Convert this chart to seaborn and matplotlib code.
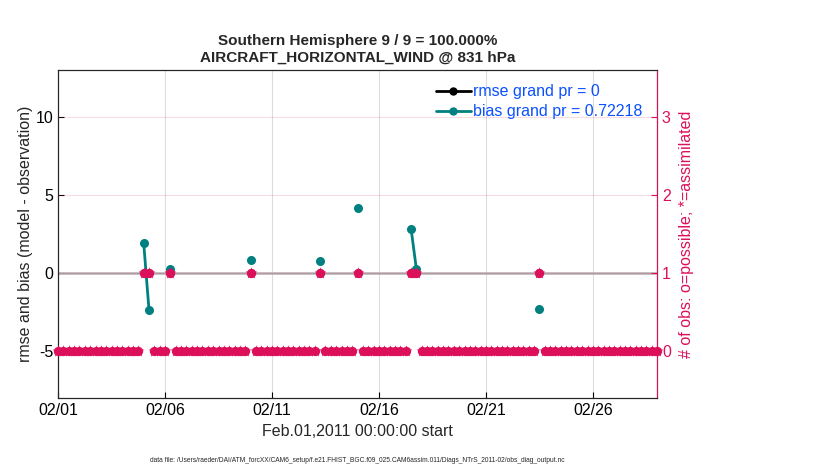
import numpy as np
import pandas as pd
import matplotlib
matplotlib.use("Agg")
import matplotlib.pyplot as plt
from matplotlib.lines import Line2D
import seaborn as sns

# 6-hourly bin centres, days since Feb.01,2011 00:00
bin_days = np.arange(0, 28.01, 0.25)

# bins that hold an observation, with values
obs_days = [4.0, 4.25, 5.25, 9.0, 12.25, 14.0, 16.5, 16.75, 22.5]
bias_vals = [1.95, -2.36, 0.26, 0.83, 0.77, 4.2, 2.85, 0.26, -2.31]
rmse_vals = [0, 0, 0, 0, 0, 0, 0, 0, 0]
n_possible_obs = [1, 1, 1, 1, 1, 1, 1, 1, 1]
n_used_obs = [1, 1, 1, 1, 1, 1, 1, 1, 1]

xtick_days = [0, 5, 10, 15, 20, 25]
xtick_labels = ['02/01', '02/06', '02/11', '02/16', '02/21', '02/26']

teal = '#008080'
magenta = '#dc0f5a'
legend_blue = '#0a50ff'

# count table for every bin (empty bins have 0 obs)
counts = pd.DataFrame({'day': bin_days, 'possible': 0, 'used': 0})
idx = np.searchsorted(bin_days, obs_days)
counts.loc[idx, 'possible'] = n_possible_obs
counts.loc[idx, 'used'] = n_used_obs

# bias/rmse table, runs of neighbouring bins are joined by a line
stats = pd.DataFrame({'day': obs_days, 'bias': bias_vals, 'rmse': rmse_vals})
stats['seg'] = (np.diff(idx, prepend=-10) > 1).cumsum()

sns.set_style("ticks")
plt.rcParams['font.family'] = ['Liberation Sans', 'DejaVu Sans']
plt.rcParams['axes.unicode_minus'] = False
plt.rcParams['xtick.direction'] = 'in'
plt.rcParams['ytick.direction'] = 'in'

fig, ax = plt.subplots(figsize=(8.3, 4.7), dpi=100)
fig.subplots_adjust(left=0.07, right=0.7916, bottom=0.153, top=0.851)

ax.axhline(0, color='#b4aeb1', lw=1.8, zorder=1)
for d in xtick_days[1:]:
    ax.axvline(d, color='#dcdcdc', lw=0.8, zorder=0)

sns.lineplot(data=stats, x='day', y='rmse', units='seg', estimator=None,
             color='black', marker='o', markersize=6, markeredgewidth=0,
             lw=2, ax=ax, zorder=2)
sns.lineplot(data=stats, x='day', y='bias', units='seg', estimator=None,
             color=teal, marker='o', markersize=6.5, markeredgewidth=0,
             lw=2, ax=ax, zorder=3)

ax.set_xlim(0, 28)
ax.set_ylim(-8, 13)
ax.set_xticks(xtick_days)
ax.set_xticklabels(xtick_labels)
ax.set_yticks([-5, 0, 5, 10])
ax.tick_params(labelsize=11.5, length=4, width=0.8, colors='black')
ax.set_xlabel('Feb.01,2011 00:00:00 start', fontsize=11.5, labelpad=4)
ax.set_ylabel('rmse and bias (model - observation)', fontsize=11.5, labelpad=2)
ax.set_title('Southern Hemisphere 9 / 9 = 100.000%\nAIRCRAFT_HORIZONTAL_WIND @ 831 hPa',
             fontsize=11, fontweight='bold', pad=6)
for s in ax.spines.values():
    s.set_linewidth(0.8)
    s.set_color('black')

ax2 = ax.twinx()
ax2.set_ylim(-0.6, 3.6)
ax2.set_yticks([0, 1, 2, 3])
for y in [1, 2, 3]:
    ax2.axhline(y, color=magenta, alpha=0.15, lw=0.8, zorder=0)
sns.scatterplot(data=counts, x='day', y='possible', marker='o', s=45,
                color=magenta, linewidth=0, ax=ax2, clip_on=False, zorder=4)
sns.scatterplot(data=counts, x='day', y='used', marker='*', s=80,
                color=magenta, linewidth=0, ax=ax2, clip_on=False, zorder=5)
ax2.set_xlabel('')
ax2.set_ylabel('# of obs: o=possible; *=assimilated', color=magenta,
               fontsize=11.5, labelpad=6)
ax2.tick_params(axis='y', colors=magenta, labelsize=11.5, length=4, width=0.8)
ax2.spines['right'].set_color(magenta)
ax2.spines['right'].set_linewidth(0.8)
ax2.spines['top'].set_linewidth(0.8)

handles = [
    Line2D([], [], color='black', lw=2, marker='o', markersize=5,
           label='rmse grand pr = 0'),
    Line2D([], [], color=teal, lw=2, marker='o', markersize=5,
           label='bias grand pr = 0.72218'),
]
ax2.legend(handles=handles, loc='upper right', frameon=False, fontsize=11.5,
           labelcolor=legend_blue, handlelength=2.2, handletextpad=0.15,
           borderaxespad=0.7, labelspacing=0.3, borderpad=0.2)

fig.text(0.43, 0.018,
         'data file: /Users/raeder/DAI/ATM_forcXX/CAM6_setup/f.e21.FHIST_BGC.f09_025.CAM6assim.011/Diags_NTrS_2011-02/obs_diag_output.nc',
         fontsize=4.8, ha='center')

fig.savefig('out.png', dpi=100)
